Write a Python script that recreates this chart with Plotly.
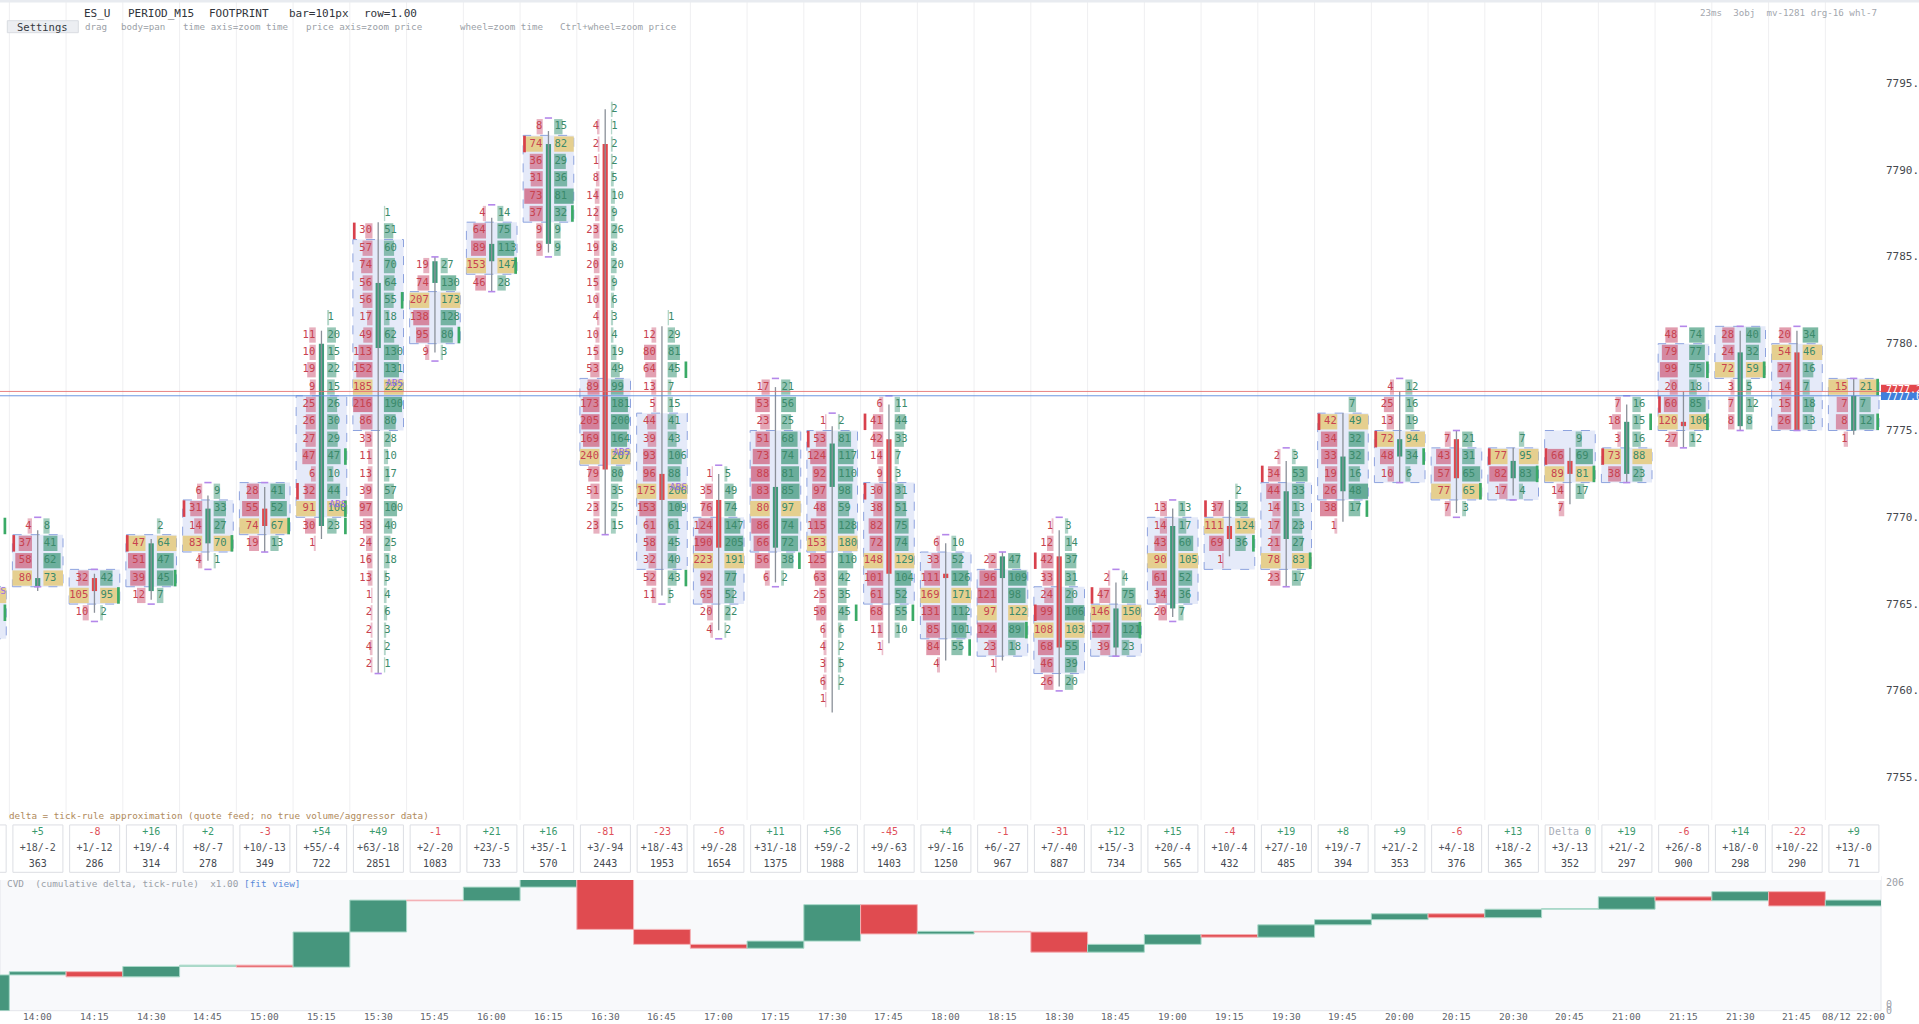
import math
import plotly.graph_objects as go

# ---------------- data ----------------
TIMES = ["13:45", "14:00", "14:15", "14:30", "14:45", "15:00", "15:15", "15:30", "15:45",
         "16:00", "16:15", "16:30", "16:45", "17:00", "17:15", "17:30", "17:45", "18:00",
         "18:15", "18:30", "18:45", "19:00", "19:15", "19:30", "19:45", "20:00", "20:15",
         "20:30", "20:45", "21:00", "21:15", "21:30", "21:45", "22:00"]
TICK_LABELS = TIMES[:-1] + ["08/12 22:00"]
FIRST_INDEX = -1  # the 13:45 bar is cut off at the left edge

# price of the top row of each footprint bar, rows go down 1.00 each
TOP_ROW = [7770, 7769, 7766, 7769, 7771, 7771, 7781, 7787, 7784, 7787, 7792, 7793, 7781,
           7772, 7777, 7775, 7776, 7768, 7767, 7769, 7766, 7770, 7771, 7773, 7776, 7777,
           7774, 7774, 7774, 7776, 7780, 7780, 7780, 7777]

BID = [
    [3, 20, 12, 18, 25, 95, 40, 30],
    [4, 37, 58, 80],
    [32, 105, 10],
    [None, 47, 51, 39, 12],
    [6, 31, 14, 83, 4],
    [28, 55, 74, 19],
    [None, 11, 10, 19, 9, 25, 26, 27, 47, 6, 32, 91, 30, 1],
    [None, 30, 57, 74, 56, 56, 17, 49, 113, 152, 185, 216, 86, 33, 11, 13, 39, 97, 53, 24, 16, 13, 1, 2, 2, 4, 2],
    [19, 74, 207, 138, 95, 9],
    [4, 64, 89, 153, 46],
    [8, 74, 36, 31, 73, 37, 9, 9],
    [None, 4, 2, 1, 8, 14, 12, 23, 19, 20, 15, 10, 4, 10, 15, 53, 89, 173, 205, 169, 240, 79, 51, 23, 23],
    [None, 12, 80, 64, 13, 5, 44, 39, 93, 96, 175, 153, 61, 58, 32, 52, 11],
    [1, 35, 76, 124, 190, 223, 92, 65, 20, 4],
    [17, 53, 23, 51, 73, 88, 83, 80, 86, 66, 56, 6],
    [1, 53, 124, 92, 97, 48, 115, 153, 125, 63, 25, 50, 6, 4, 3, 6, 1],
    [6, 41, 42, 14, 9, 30, 38, 82, 72, 148, 101, 61, 68, 11, 1],
    [6, 33, 111, 169, 131, 85, 84, 4],
    [22, 96, 121, 97, 124, 23, 1],
    [1, 12, 42, 33, 24, 99, 108, 68, 46, 26],
    [2, 47, 146, 127, 39],
    [13, 14, 43, 90, 61, 34, 20],
    [None, 37, 111, 69, 1],
    [2, 34, 44, 14, 17, 21, 78, 23],
    [None, 42, 34, 33, 19, 26, 38, 1],
    [4, 25, 13, 72, 48, 10],
    [7, 43, 57, 77, 7],
    [None, 77, 82, 17],
    [None, 66, 89, 14, 7],
    [7, 18, 3, 73, 38],
    [48, 79, 99, 20, 60, 120, 27],
    [28, 24, 72, 3, 7, 8],
    [20, 54, 27, 14, 15, 26],
    [15, 7, 8, 1],
]
ASK = [
    [5, 30, 10, 15, 22, 88, 38, 26],
    [8, 41, 62, 73],
    [42, 95, 2],
    [2, 64, 47, 45, 7],
    [9, 33, 27, 70, 1],
    [41, 52, 67, 13],
    [1, 20, 15, 22, 15, 26, 30, 29, 47, 10, 44, 100, 23, None],
    [1, 51, 60, 70, 64, 55, 18, 62, 130, 131, 222, 190, 80, 28, 10, 17, 57, 100, 40, 25, 18, 5, 4, 6, 3, 2, 1],
    [27, 130, 173, 128, 80, 3],
    [14, 75, 113, 147, 28],
    [15, 82, 29, 36, 81, 32, 9, 9],
    [2, 1, 2, 2, 5, 10, 9, 26, 8, 20, 9, 6, 3, 4, 19, 49, 99, 181, 200, 164, 207, 80, 35, 25, 15],
    [1, 29, 81, 45, 7, 15, 41, 43, 106, 88, 206, 109, 61, 45, 40, 43, 5],
    [5, 49, 74, 147, 205, 191, 77, 52, 22, 2],
    [21, 56, 25, 68, 74, 81, 85, 97, 74, 72, 38, 2],
    [2, 81, 117, 110, 98, 59, 128, 180, 110, 42, 35, 45, 6, 2, 5, 2, None],
    [11, 44, 33, 7, 3, 31, 51, 75, 74, 129, 104, 52, 55, 10, None],
    [10, 52, 126, 171, 112, 101, 55, None],
    [47, 109, 98, 122, 89, 18, None],
    [3, 14, 37, 31, 20, 106, 103, 55, 39, 20],
    [4, 75, 150, 121, 23],
    [13, 17, 60, 105, 52, 36, 7],
    [2, 52, 124, 36, None],
    [3, 53, 33, 13, 23, 27, 83, 17],
    [7, 49, 32, 32, 16, 48, 17, None],
    [12, 16, 19, 94, 34, 6],
    [21, 31, 65, 65, 3],
    [7, 95, 83, 4],
    [9, 69, 81, 17, None],
    [16, 15, 16, 88, 23],
    [74, 77, 75, 18, 85, 106, 12],
    [40, 32, 59, 5, 12, 8],
    [34, 46, 16, 7, 18, 13],
    [21, 7, 12, None],
]
POC = [7765, 7766, 7765, 7768, 7768, 7769, 7770, 7777, 7782, 7784, 7791, 7773, 7771, 7767,
       7770, 7768, 7767, 7765, 7764, 7763, 7764, 7767, 7769, 7767, 7775, 7774, 7771, 7773,
       7772, 7773, 7775, 7778, 7779, 7777]
VA_HI = [7765, 7768, 7766, 7768, 7770, 7771, 7776, 7785, 7782, 7786, 7791, 7777, 7775, 7769,
         7774, 7774, 7771, 7767, 7766, 7765, 7764, 7769, 7769, 7771, 7775, 7774, 7773, 7773,
         7774, 7773, 7779, 7780, 7779, 7777]
VA_LO = [7763, 7766, 7765, 7766, 7768, 7769, 7770, 7775, 7780, 7784, 7787, 7773, 7767, 7765,
         7768, 7768, 7765, 7763, 7762, 7761, 7762, 7765, 7767, 7767, 7771, 7772, 7771, 7771,
         7772, 7772, 7775, 7778, 7775, 7775]
OPEN = [7764.50, 7766.00, 7766.50, 7765.75, 7768.50, 7770.50, 7769.50, 7779.75, 7783.50,
        7784.75, 7785.75, 7791.50, 7772.50, 7771.00, 7768.25, 7771.75, 7774.50, 7766.75,
        7766.50, 7767.75, 7762.50, 7764.75, 7769.50, 7768.75, 7771.50, 7773.50, 7774.50,
        7772.25, 7773.25, 7772.50, 7775.50, 7775.25, 7779.50, 7775.00]
HIGH = [7769.50, 7769.25, 7766.75, 7768.75, 7771.25, 7771.75, 7780.75, 7787.00, 7785.00,
        7787.25, 7792.25, 7793.50, 7781.00, 7772.50, 7777.50, 7775.25, 7776.50, 7768.50,
        7768.00, 7769.25, 7766.25, 7770.50, 7771.00, 7773.25, 7776.00, 7777.25, 7775.00,
        7774.00, 7774.00, 7776.50, 7777.25, 7780.75, 7780.75, 7778.00]
LOW = [7763.25, 7765.75, 7764.50, 7765.25, 7767.50, 7768.00, 7768.75, 7761.00, 7779.50,
       7783.00, 7785.25, 7769.00, 7765.50, 7763.50, 7766.25, 7758.75, 7762.75, 7761.75,
       7761.75, 7760.25, 7762.00, 7764.25, 7767.75, 7766.00, 7769.75, 7772.00, 7770.25,
       7771.25, 7770.75, 7772.00, 7774.00, 7775.00, 7775.00, 7774.75]
CLOSE = [7766.25, 7766.50, 7765.75, 7768.50, 7770.50, 7769.50, 7780.00, 7783.50, 7784.75,
         7785.75, 7791.50, 7772.75, 7771.00, 7768.25, 7771.75, 7774.25, 7766.75, 7766.50,
         7767.75, 7762.50, 7764.75, 7769.50, 7768.75, 7771.50, 7773.50, 7774.50, 7772.25,
         7773.25, 7772.50, 7775.50, 7775.25, 7779.50, 7775.00, 7777.00]

# (bar position, row price) of bid / ask imbalance marks
IMB_BID = [(0, 7768), (2, 7768), (3, 7770), (5, 7771), (6, 7786), (9, 7791), (14, 7774),
           (15, 7775), (15, 7771), (18, 7767), (18, 7764), (19, 7765), (21, 7770), (22, 7772),
           (23, 7775), (24, 7774), (26, 7773), (27, 7773), (28, 7773), (29, 7776)]
IMB_ASK = [(-1, 7769), (-1, 7764), (1, 7765), (2, 7766), (3, 7768), (4, 7769), (5, 7773),
           (5, 7770), (5, 7769), (6, 7782), (7, 7780), (8, 7784), (9, 7787), (11, 7778),
           (11, 7766), (13, 7767), (14, 7764), (15, 7764), (16, 7762), (17, 7763), (19, 7763),
           (21, 7768), (22, 7767), (23, 7770), (24, 7773), (25, 7771), (26, 7772), (27, 7772),
           (28, 7775), (29, 7778), (29, 7775), (30, 7778), (32, 7777), (32, 7775)]
CAP_TOP = [0, 1, 3, 4, 7, 8, 9, 12, 13, 14, 15, 16, 17, 18, 19, 20, 22, 24, 25, 28, 29, 30, 31, 32]
CAP_BOT = [0, 1, 2, 3, 4, 6, 7, 8, 9, 10, 11, 12, 13, 18, 19, 20, 22, 24, 25, 26, 28, 29, 30, 31]
ABS_MARKS = [(-1, 7765), (5, 7770), (6, 7777), (10, 7773), (11, 7771)]

DELTA = [55, 5, -8, 16, 2, -3, 54, 49, -1, 21, 16, -81, -23, -6, 11, 56, -45, 4, -1, -31,
         12, 15, -4, 19, 8, 9, -6, 13, 0, 19, -6, 14, -22, 9]
BUY = [60, 18, 1, 19, 8, 10, 55, 63, 2, 23, 35, 3, 18, 9, 31, 59, 9, 9, 6, 7, 15, 20, 10,
       27, 19, 21, 4, 18, 3, 21, 26, 18, 10, 13]
SELL = [5, 2, 12, 4, 7, 13, 4, 18, 20, 5, 1, 94, 43, 28, 18, 2, 63, 16, 27, 40, 3, 4, 4,
        10, 7, 2, 18, 2, 13, 2, 8, 0, 22, 0]
VOLUME = [410, 363, 286, 314, 278, 349, 722, 2851, 1083, 733, 570, 2443, 1953, 1654, 1375,
          1988, 1403, 1250, 967, 887, 734, 565, 432, 485, 394, 353, 376, 365, 352, 297, 900,
          298, 290, 71]

PRICE_TICKS = [7755, 7760, 7765, 7770, 7775, 7780, 7785, 7790, 7795]
LAST_PRICE = 7777.25
BID_LINE = 7777.00

HEADER_WORDS = [(81.7, "ES_U"), (126, "PERIOD_M15"), (207, "FOOTPRINT"), (287, "bar=101px"),
                (362, "row=1.00")]
HINT_WORDS = [(83.3, "drag"), (119, "body=pan"), (181, "time axis=zoom time"),
              (304, "price axis=zoom price"), (458, "wheel=zoom time"),
              (558, "Ctrl+wheel=zoom price")]

# ---------------- geometry (pixels of the 1919x1024 page) ----------------
W, H = 1919, 1024
BAR_PX = 56.75          # one 15 min slot
X0_PX = 37.7            # centre of the 14:00 bar
PLOT_RIGHT = 1881
PT_PX = 17.36           # pixels per 1.00 of price
REF_PRICE, REF_PX = 7780, 343.7
FP_BOTTOM = 808
CVD_TOP, CVD_BOT = 876.7, 1010.7
HALF, INNER = 25.3, 5.7
FULL = HALF - INNER

FONT = "DejaVu Sans Mono, monospace"
RED_TXT, GRN_TXT = "#c8424f", "#3b8a6b"
NB = "\u00a0"


def dx(px):
    return px / BAR_PX


def py(px):
    return 1 - px / H


def pxx(px):
    return px / W


def note(x, y, text, size, color, xanchor="left", xref="paper", yref="paper"):
    return dict(xref=xref, yref=yref, x=x, y=y, text=text, showarrow=False,
                xanchor=xanchor, yanchor="middle",
                font=dict(family=FONT, size=size, color=color))


fig = go.Figure()
shapes = []
annotations = []

# vertical slot separators
for k in range(len(TIMES)):
    xb = k + FIRST_INDEX + 0.5
    shapes.append(dict(type="line", xref="x", yref="paper", x0=xb, x1=xb, y0=py(824), y1=1,
                       line=dict(color="#efeff1", width=1), layer="below"))

# value area boxes
for k in range(len(TIMES)):
    c = k + FIRST_INDEX
    shapes.append(dict(type="rect", xref="x", yref="y", x0=c - dx(HALF), x1=c + dx(HALF),
                       y0=VA_LO[k], y1=VA_HI[k] + 1, fillcolor="rgba(208,216,244,0.55)",
                       line=dict(color="#8ea3de", width=1, dash="dash"), layer="below"))

# cell histogram bars + numbers
cb, cl, cy, cc = [], [], [], []
bx, by, bt, ax_, ay, at = [], [], [], [], [], []
for k in range(len(TIMES)):
    c = k + FIRST_INDEX
    mx = max(v for v in BID[k] + ASK[k] if v)
    for j, (b, a) in enumerate(zip(BID[k], ASK[k])):
        p = TOP_ROW[k] - j
        is_poc = p == POC[k]
        for v, side in ((b, -1), (a, 1)):
            if v is None:
                continue
            r = math.sqrt(v / mx)
            ln = FULL if is_poc else max(1.3, FULL * r)
            if is_poc:
                col = "#e5cf8f"
            elif side < 0:
                col = "rgba(205,88,118,%.2f)" % (0.35 + 0.4 * r)
            else:
                col = "rgba(58,150,118,%.2f)" % (0.35 + 0.4 * r)
            if side < 0:
                cb.append(c - dx(INNER + ln))
                bx.append(c - dx(INNER + 0.5))
                by.append(p + 0.5)
                bt.append(str(v))
            else:
                cb.append(c + dx(INNER))
                ax_.append(c + dx(INNER + 0.3))
                ay.append(p + 0.5)
                at.append(str(v))
            cl.append(dx(ln))
            cy.append(p + 0.5)
            cc.append(col)

fig.add_trace(go.Bar(orientation="h", base=cb, x=cl, y=cy, width=0.88,
                     marker=dict(color=cc, line=dict(width=0)), hoverinfo="skip"))

# imbalance marks
ib, iy, ic = [], [], []
for pos, p in IMB_BID:
    ib.append(pos - dx(HALF))
    iy.append(p + 0.5)
    ic.append("#d8404c")
for pos, p in IMB_ASK:
    ib.append(pos + dx(HALF - 2.7))
    iy.append(p + 0.5)
    ic.append("#3aaa66")
fig.add_trace(go.Bar(orientation="h", base=ib, x=[dx(2.7)] * len(ib), y=iy, width=0.95,
                     marker=dict(color=ic, line=dict(width=0)), hoverinfo="skip"))

fig.add_trace(go.Scatter(x=bx, y=by, text=bt, mode="text", textposition="middle left",
                         textfont=dict(family=FONT, size=10.5, color=RED_TXT), hoverinfo="skip"))
fig.add_trace(go.Scatter(x=ax_, y=ay, text=at, mode="text", textposition="middle right",
                         textfont=dict(family=FONT, size=10.5, color=GRN_TXT), hoverinfo="skip"))

# ABS labels
fig.add_trace(go.Scatter(x=[pos + dx(16.5) for pos, _ in ABS_MARKS],
                         y=[p + 0.72 for _, p in ABS_MARKS], text=["ABS"] * len(ABS_MARKS),
                         mode="text", textposition="middle center",
                         textfont=dict(family=FONT, size=9.5, color="#9a6ee6"), hoverinfo="skip"))

# candles: wick, body, range caps
wx, wy = [], []
for k in range(len(TIMES)):
    c = k + FIRST_INDEX
    wx += [c, c, None]
    wy += [LOW[k], HIGH[k], None]
fig.add_trace(go.Scatter(x=wx, y=wy, mode="lines", line=dict(color="#8b9099", width=1.3),
                         hoverinfo="skip"))
body_base = [min(o, cl_) for o, cl_ in zip(OPEN, CLOSE)]
body_len = [max(abs(cl_ - o), 0.15) for o, cl_ in zip(OPEN, CLOSE)]
body_col = ["#3e9a7a" if cl_ >= o else "#e2474c" for o, cl_ in zip(OPEN, CLOSE)]
fig.add_trace(go.Bar(x=[k + FIRST_INDEX for k in range(len(TIMES))], y=body_len, base=body_base,
                     width=dx(5.2), marker=dict(color=body_col, line=dict(width=0)),
                     hoverinfo="skip"))
capx, capy = [], []
for pos in CAP_TOP:
    k = pos - FIRST_INDEX
    capx += [pos - dx(3.6), pos + dx(3.6), None]
    capy += [TOP_ROW[k] + 1, TOP_ROW[k] + 1, None]
for pos in CAP_BOT:
    k = pos - FIRST_INDEX
    lo = TOP_ROW[k] - len(BID[k]) + 1
    capx += [pos - dx(3.6), pos + dx(3.6), None]
    capy += [lo, lo, None]
fig.add_trace(go.Scatter(x=capx, y=capy, mode="lines", line=dict(color="#b487ea", width=1.6),
                         hoverinfo="skip"))

# current price lines + labels
for pr, col in ((LAST_PRICE, "rgba(228,110,110,0.85)"), (BID_LINE, "rgba(92,140,222,0.9)")):
    shapes.append(dict(type="line", xref="paper", yref="y", x0=0, x1=pxx(PLOT_RIGHT),
                       y0=pr, y1=pr, line=dict(color=col, width=1)))
shapes.append(dict(type="rect", xref="paper", yref="y", x0=pxx(PLOT_RIGHT), x1=1,
                   y0=LAST_PRICE - 0.33, y1=LAST_PRICE + 0.38, fillcolor="#e2474c",
                   line=dict(width=0)))
shapes.append(dict(type="rect", xref="paper", yref="y", x0=pxx(PLOT_RIGHT), x1=1,
                   y0=BID_LINE - 0.25, y1=BID_LINE + 0.2, fillcolor="#3f7fdc",
                   line=dict(width=0)))
annotations.append(note(pxx(1884), LAST_PRICE + 0.12, "%.2f" % LAST_PRICE, 10, "white", yref="y"))
annotations.append(note(pxx(1884), BID_LINE - 0.03, "%.2f" % BID_LINE, 10, "white", yref="y"))

# price scale
for p in PRICE_TICKS:
    annotations.append(note(pxx(1884), p, "%.2f" % p, 11, "#45484e", yref="y"))

# stats boxes
sx, s0, s1, s2, s0c = [], [], [], [], []
for k in range(len(TIMES)):
    c = k + FIRST_INDEX
    shapes.append(dict(type="rect", xref="x", yref="y3", x0=c - dx(24.8), x1=c + dx(25.2),
                       y0=-0.46, y1=2.5, fillcolor="white",
                       line=dict(color="#dcdee3", width=1), layer="below"))
    d = DELTA[k]
    sx.append(c)
    if d == 0:
        s0.append('<span style="color:#a9adb8">Delta</span>' + NB + '0')
    else:
        s0.append("%+d" % d)
    s0c.append("#3b9a6e" if d >= 0 else "#e0505a")
    s1.append("+%d/-%d" % (BUY[k], SELL[k]))
    s2.append(str(VOLUME[k]))
fig.add_trace(go.Scatter(x=sx, y=[0] * len(sx), text=s0, mode="text", yaxis="y3",
                         textposition="middle center",
                         textfont=dict(family=FONT, size=10, color=s0c), hoverinfo="skip"))
fig.add_trace(go.Scatter(x=sx, y=[1] * len(sx), text=s1, mode="text", yaxis="y3",
                         textposition="middle center",
                         textfont=dict(family=FONT, size=10, color="#50545b"), hoverinfo="skip"))
fig.add_trace(go.Scatter(x=sx, y=[2] * len(sx), text=s2, mode="text", yaxis="y3",
                         textposition="middle center",
                         textfont=dict(family=FONT, size=10, color="#444850"), hoverinfo="skip"))

# CVD waterfall
shapes.append(dict(type="rect", xref="paper", yref="paper", x0=0, x1=pxx(PLOT_RIGHT),
                   y0=py(CVD_BOT), y1=py(CVD_TOP - 0.5), fillcolor="#f8f9fb",
                   line=dict(color="#e4e6eb", width=1), layer="below"))
cvd_base, cvd_len, cvd_col, cvd_line = [], [], [], []
level = 0
for d in DELTA:
    cvd_base.append(level)
    small = abs(d) <= 2
    cvd_len.append(d if d != 0 else 1.0)
    if d >= 0:
        cvd_col.append("#9fd0bf" if small else "#46967d")
        cvd_line.append("#a8d8c8")
    else:
        cvd_col.append("#f1a0a6" if small else "#e04b50")
        cvd_line.append("#f4b1b5")
    level += d
fig.add_trace(go.Bar(x=[k + FIRST_INDEX for k in range(len(TIMES))], y=cvd_len, base=cvd_base,
                     width=1.0, yaxis="y2",
                     marker=dict(color=cvd_col, line=dict(color=cvd_line, width=1)),
                     hoverinfo="skip"))
cvd_top = max(sum(DELTA[:i + 1]) for i in range(len(DELTA)))
annotations.append(note(pxx(1884), py(882.5), str(cvd_top), 10, "#9a9ea6"))
annotations.append(note(pxx(1884), py(1004.5), "0", 10, "#9a9ea6"))
annotations.append(note(pxx(1884), py(1010.5), "0", 10, "#9a9ea6"))

# time axis labels
for k in range(1, len(TIMES)):
    annotations.append(note(k + FIRST_INDEX, py(1016.5), TICK_LABELS[k], 9.5, "#60646b",
                            xanchor="center", xref="x"))

# header / captions
shapes.append(dict(type="rect", xref="paper", yref="paper", x0=0, x1=1, y0=py(2.5), y1=1,
                   fillcolor="#e8ebf0", line=dict(width=0)))
shapes.append(dict(type="rect", xref="paper", yref="paper", x0=pxx(7.3), x1=pxx(78.3),
                   y0=py(32.7), y1=py(20.7), fillcolor="#eceef2",
                   line=dict(color="#d9dce2", width=1)))
annotations.append(note(pxx(42.8), py(26.7), "Settings", 10.5, "#353940", xanchor="center"))
for xpos, txt in HEADER_WORDS:
    annotations.append(note(pxx(xpos), py(13.5), txt, 11, "#30343b"))
for xpos, txt in HINT_WORDS:
    annotations.append(note(pxx(xpos), py(26.7), txt.replace(" ", NB), 9.2, "#9b9fa7"))
annotations.append(note(pxx(1879), py(12), "23ms" + NB * 2 + "3obj" + NB * 2 + "mv-1281" + NB +
                        "drg-16" + NB + "whl-7", 9.2, "#a3a7ae", xanchor="right"))
annotations.append(note(pxx(6.5), py(815),
                        "delta = tick-rule approximation (quote feed; no true volume/aggressor data)".replace(" ", NB),
                        9.3, "#b08a5c"))
annotations.append(note(pxx(5), py(883),
                        "CVD" + NB * 2 + "(cumulative" + NB + "delta," + NB + "tick-rule)" + NB * 2 +
                        "x1.00" + NB + '<span style="color:#5b8bd9">[fit' + NB + 'view]</span>',
                        9.4, "#9aa0a8"))

x_range = [(0 - X0_PX) / BAR_PX, (PLOT_RIGHT - X0_PX) / BAR_PX]
y_range = [REF_PRICE - (FP_BOTTOM - REF_PX) / PT_PX, REF_PRICE + REF_PX / PT_PX]
row_px = 16.0
r_top = (820 - 832.3) / row_px
r_bot = (880 - 832.3) / row_px

fig.update_layout(
    width=W, height=H, margin=dict(l=0, r=0, t=0, b=0, autoexpand=False),
    paper_bgcolor="white", plot_bgcolor="white", showlegend=False, barmode="overlay",
    xaxis=dict(domain=[0, pxx(PLOT_RIGHT)], range=x_range, visible=False, fixedrange=True),
    yaxis=dict(domain=[py(FP_BOTTOM), 1], range=y_range, visible=False, fixedrange=True),
    yaxis2=dict(domain=[py(CVD_BOT), py(CVD_TOP)], range=[0, cvd_top], anchor="x",
                visible=False, fixedrange=True),
    yaxis3=dict(domain=[py(880), py(820)], range=[r_bot, r_top], anchor="x",
                visible=False, fixedrange=True),
    shapes=shapes, annotations=annotations,
)

fig.write_html("out.html", config={"displayModeBar": False},
               post_script="document.body.style.margin='0px';")
